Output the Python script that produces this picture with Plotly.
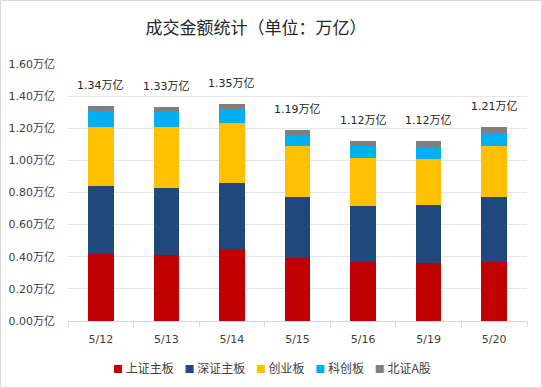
import plotly.graph_objects as go

dates = ["5/12", "5/13", "5/14", "5/15", "5/16", "5/19", "5/20"]
series_names = ["上证主板", "深证主板", "创业板", "科创板", "北证A股"]
sh_main = [0.42, 0.41, 0.45, 0.39, 0.365, 0.36, 0.37]
sz_main = [0.42, 0.42, 0.41, 0.38, 0.35, 0.36, 0.40]
chinext = [0.37, 0.38, 0.37, 0.32, 0.30, 0.29, 0.32]
star = [0.10, 0.09, 0.09, 0.07, 0.075, 0.07, 0.08]
bse = [0.03, 0.03, 0.03, 0.03, 0.03, 0.04, 0.04]
totals = [1.34, 1.33, 1.35, 1.19, 1.12, 1.12, 1.21]
total_labels = ["1.34万亿", "1.33万亿", "1.35万亿", "1.19万亿", "1.12万亿", "1.12万亿", "1.21万亿"]
y_ticks = [0, 0.2, 0.4, 0.6, 0.8, 1.0, 1.2, 1.4, 1.6]
y_tick_labels = ["0.00万亿", "0.20万亿", "0.40万亿", "0.60万亿", "0.80万亿",
                 "1.00万亿", "1.20万亿", "1.40万亿", "1.60万亿"]

colors = ["#C00000", "#1F497D", "#FFC000", "#00B0F0", "#7F7F7F"]
FONT = "DejaVu Sans, Noto Sans CJK SC, sans-serif"
CJK = "Noto Sans CJK SC"

fig = go.Figure()
for name, vals, c in zip(series_names, [sh_main, sz_main, chinext, star, bse], colors):
    fig.add_trace(go.Bar(x=dates, y=vals, name=name, marker=dict(color=c, line=dict(width=0)),
                         hoverinfo="skip", showlegend=False))

for d, t, lab in zip(dates, totals, total_labels):
    fig.add_annotation(x=d, y=t, text=lab, showarrow=False, yanchor="bottom", yshift=12,
                       font=dict(size=11, color="#262626", family=FONT))

L, R, T, B = 68, 15, 64, 67
W, H = 542, 388
pw, ph = W - L - R, H - T - B

# custom legend row
parts = []
for name, c in zip(series_names, colors):
    parts.append(f"<span style='color:{c};font-size:10px'>■</span>&nbsp;{name}")
legend_text = "&nbsp;&nbsp;&nbsp;&nbsp;".join(parts)
fig.add_annotation(xref="paper", yref="paper", x=(272 - L) / pw, y=-(367 - (H - B)) / ph,
                   xanchor="center", yanchor="middle", showarrow=False, text=legend_text,
                   font=dict(size=12, color="#404040", family=CJK))

fig.add_shape(type="rect", xref="paper", yref="paper",
              x0=(0.5 - L) / pw, x1=(W - 0.5 - L) / pw,
              y0=-(B - 0.5) / ph, y1=1 + (T - 0.5) / ph,
              line=dict(color="#D9D9D9", width=1), layer="below")

fig.update_layout(
    width=W, height=H,
    margin=dict(l=L, r=R, t=T, b=B, autoexpand=False),
    barmode="stack", bargap=0.61,
    paper_bgcolor="white", plot_bgcolor="white",
    title=dict(text="成交金额统计（单位：万亿）", x=256 / W, xref="container", xanchor="center",
               y=1 - 28 / H, yref="container", yanchor="middle",
               font=dict(size=17, color="#262626", family=CJK)),
    font=dict(family=FONT, size=11, color="#404040"),
    showlegend=False,
    xaxis=dict(showgrid=False, showline=True, linecolor="#D9D9D9", linewidth=1,
               ticks="outside", tickson="boundaries", ticklen=5, tickcolor="#D9D9D9",
               ticklabelstandoff=8,
               tickfont=dict(size=11, color="#404040"), fixedrange=True, automargin=False),
    yaxis=dict(range=[0, 1.6], tickvals=y_ticks, ticktext=y_tick_labels,
               showgrid=True, gridcolor="#E6E6E6", gridwidth=1, zeroline=False,
               showline=False, ticks="", ticklabelstandoff=12,
               tickfont=dict(size=11, color="#404040"), fixedrange=True, automargin=False),
)

fig.write_html("out.html", config={"displayModeBar": False},
               post_script="document.body.style.margin='0';document.body.style.overflow='hidden';")
